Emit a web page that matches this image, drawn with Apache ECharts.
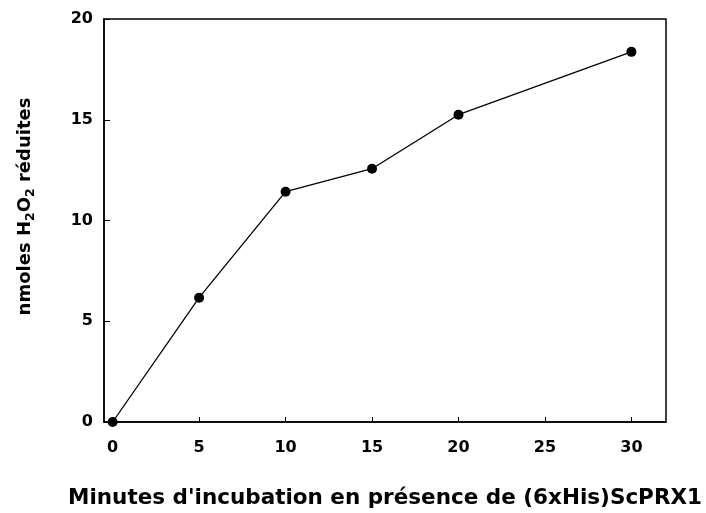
<!DOCTYPE html>
<html>
<head>
<meta charset="utf-8">
<script src="https://cdn.jsdelivr.net/npm/echarts@6/dist/echarts.min.js"></script>
<style>html,body{margin:0;padding:0;background:#fff}#c{width:706px;height:513px}</style>
</head>
<body>
<div id="c"></div>
<script>
var minutes = [0, 5, 10, 15, 20, 30];
var nmoles = [0, 6.17, 11.43, 12.57, 15.25, 18.37];
var xTicks = [0, 5, 10, 15, 20, 25, 30];
var yTicks = [0, 5, 10, 15, 20];

var chart = echarts.init(document.getElementById('c'), null, {renderer: 'canvas'});
var font = '"DejaVu Sans", sans-serif';
chart.setOption({
  animation: false,
  backgroundColor: '#fff',
  grid: {left: 104, right: 40, top: 19, bottom: 91, outerBoundsMode: 'none', containLabel: false,
         show: true, borderColor: '#000', borderWidth: 1.5, backgroundColor: 'transparent'},
  xAxis: {
    type: 'value', min: -0.5, max: 32,
    name: "Minutes d'incubation en présence de (6xHis)ScPRX1",
    nameLocation: 'middle', nameGap: 65,
    nameTextStyle: {fontFamily: font, fontWeight: 'bold', fontSize: 21.5, color: '#000'},
    axisLine: {show: true, onZero: false, lineStyle: {color: '#000', width: 1.5}},
    splitLine: {show: false},
    axisTick: {show: true, inside: true, length: 5, lineStyle: {color: '#000', width: 1}, customValues: xTicks},
    axisLabel: {customValues: xTicks, fontFamily: font, fontWeight: 'bold', fontSize: 16, color: '#000', margin: 18}
  },
  yAxis: {
    type: 'value', min: 0, max: 20, interval: 5,
    name: '{a|nmoles H}{s|2}{a|O}{s|2}{a| réduites}',
    nameLocation: 'middle', nameGap: 67,
    nameTextStyle: {
      padding: [0, 0, 0, 28],
      rich: {
        a: {fontFamily: font, fontWeight: 'bold', fontSize: 18, color: '#000'},
        s: {fontFamily: font, fontWeight: 'bold', fontSize: 12.5, color: '#000', padding: [10, 0, 0, 0]}
      }
    },
    axisLine: {show: true, onZero: false, lineStyle: {color: '#000', width: 1.5}},
    splitLine: {show: false},
    axisTick: {show: true, inside: true, length: 6, lineStyle: {color: '#000', width: 1}},
    axisLabel: {fontFamily: font, fontWeight: 'bold', fontSize: 16, color: '#000', margin: 11}
  },
  series: [{
    type: 'line',
    data: minutes.map(function (m, i) { return [m, nmoles[i]]; }),
    symbol: 'circle', symbolSize: 10,
    itemStyle: {color: '#000'},
    lineStyle: {color: '#000', width: 1.3},
    clip: false
  }]
});
</script>
</body>
</html>
